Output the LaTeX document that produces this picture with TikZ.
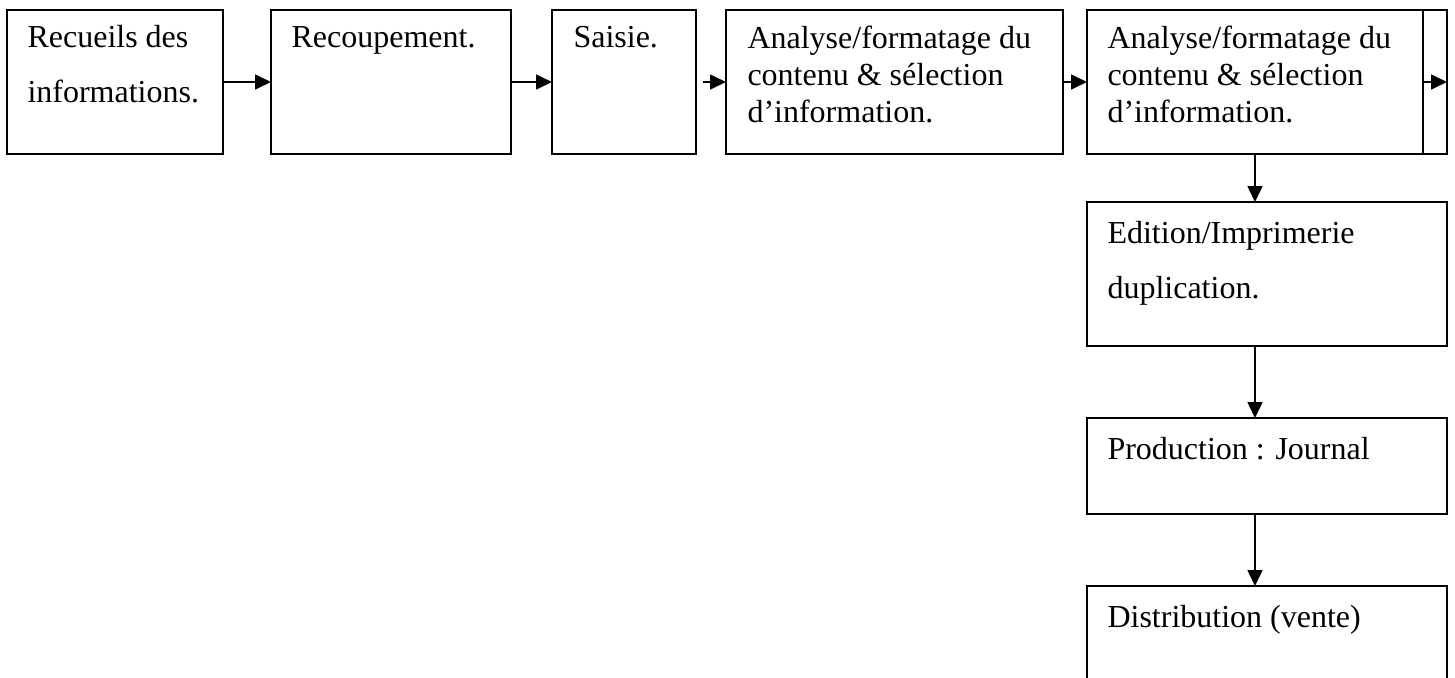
\documentclass[tikz,border=0pt]{standalone}
\usepackage{fontspec}
\setmainfont{Liberation Serif}
\usetikzlibrary{arrows.meta}
\newcommand\boxtext[1]{\parbox[t]{150pt}{\raggedright #1}}
\begin{document}
\begin{tikzpicture}[x=0.375pt,y=-0.375pt,
  box/.style={draw,line width=0.8pt,inner sep=0pt,outer sep=0pt,anchor=north west,minimum height=54pt},
  lbl/.style={anchor=base west,inner sep=0pt,font=\fontsize{12pt}{13.875pt}\selectfont},
  lblwide/.style={anchor=base west,inner sep=0pt,font=\fontsize{12pt}{20.625pt}\selectfont},
  arr/.style={line width=0.7pt,-{Triangle[length=6pt,width=5.6pt]}}]
\useasboundingbox (0,0) rectangle (1455,677);
\clip (0,0) rectangle (1455,677);
% top row
\node[box,minimum width=81pt] (b1) at (7,10) {};
\node[box,minimum width=90pt] (b2) at (271,10) {};
\node[box,minimum width=54pt] (b3) at (552,10) {};
\node[box,minimum width=126.375pt] (b4) at (726,10) {};
\node[box,minimum width=135pt] (b5) at (1087,10) {};
% right column
\node[box,minimum width=135pt] (b6) at (1087,202) {};
\node[box,minimum width=135pt,minimum height=36pt] (b7) at (1087,418) {};
\node[box,minimum width=135pt,minimum height=42.75pt] (b8) at (1087,586) {};
% texts
\node[lblwide] (t1) at (27,47) {\boxtext{Recueils des\\informations.}};
\node[lbl] (t2) at (291,47) {\boxtext{Recoupement.}};
\node[lbl] (t3) at (573,47) {\boxtext{Saisie.}};
\node[lbl] (t4) at (747,48) {\boxtext{Analyse/formatage du\\contenu \& sélection\\d’information.}};
\node[lbl] (t5) at (1107,48) {\boxtext{Analyse/formatage du\\contenu \& sélection\\d’information.}};
\node[lblwide] (t6) at (1107,243) {\boxtext{Edition/Imprimerie\\duplication.}};
\node[lbl] (t7) at (1107,459) {\boxtext{Production : Journal}};
\node[lbl] (t8) at (1107,627) {\boxtext{Distribution (vente)}};
% divider inside the fifth box
\draw[line width=0.8pt] ([xshift=-9pt]b5.north east) -- ([xshift=-9pt]b5.south east);
% connectors
\draw[arr] (b1.east) -- (b2.west);
\draw[arr] (b2.east) -- (b3.west);
\draw[arr] ([xshift=2.625pt]b3.east) -- (b4.west);
\draw[arr] (b4.east) -- (b5.west);
\draw[arr] ([xshift=-9pt]b5.east) -- (b5.east);
\draw[arr] ([xshift=-4.5pt]b5.south) -- ([xshift=-4.5pt]b6.north);
\draw[arr] ([xshift=-4.5pt]b6.south) -- ([xshift=-4.5pt]b7.north);
\draw[arr] ([xshift=-4.5pt]b7.south) -- ([xshift=-4.5pt]b8.north);
\end{tikzpicture}
\end{document}
